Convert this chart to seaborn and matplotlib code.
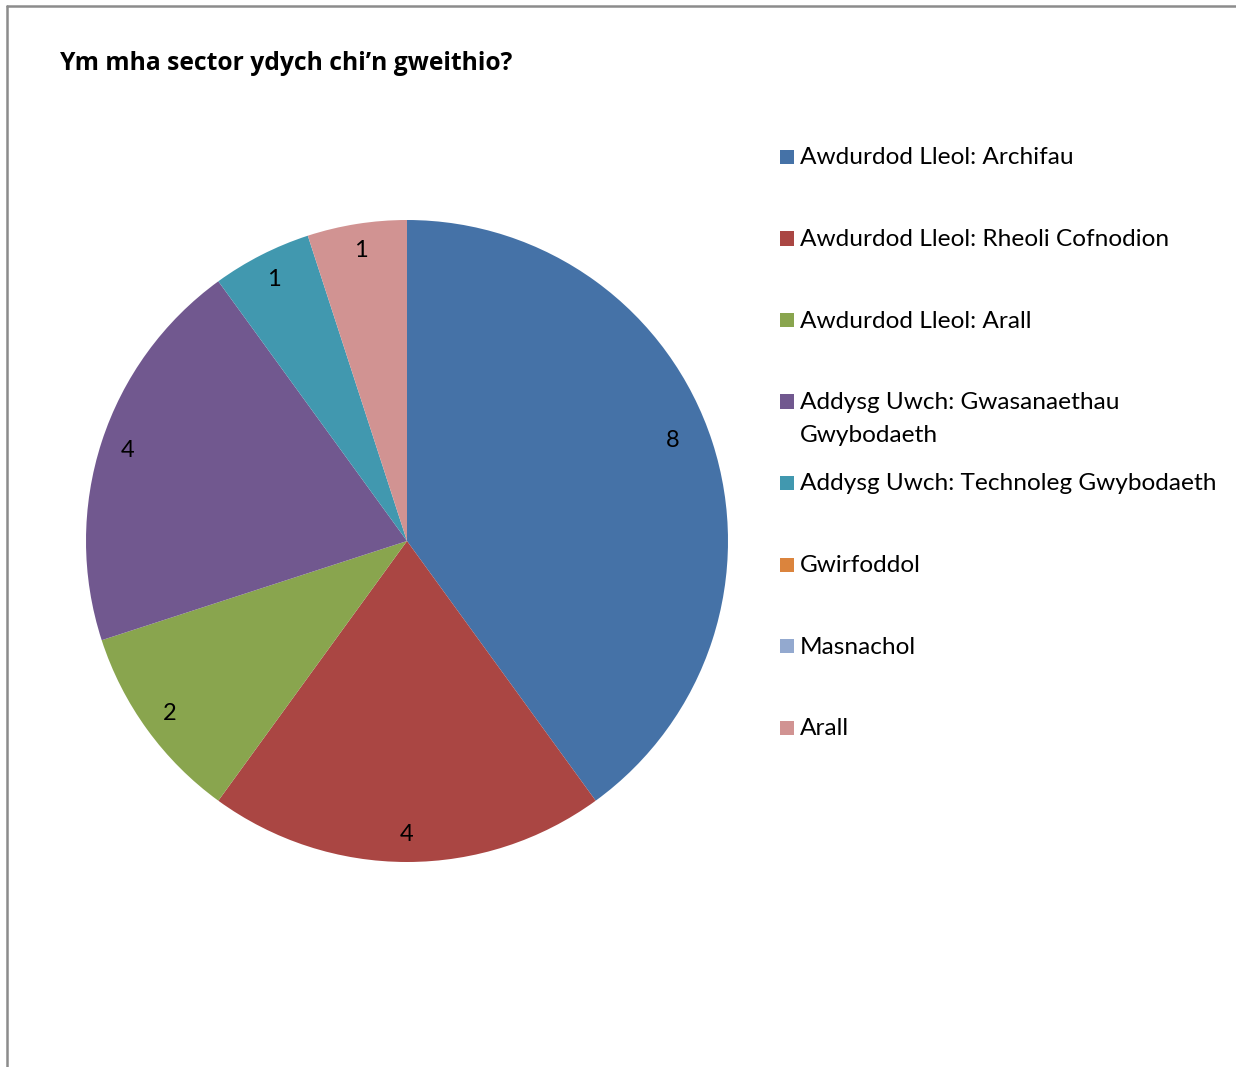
import matplotlib
matplotlib.use("Agg")
import numpy as np
import matplotlib.pyplot as plt
from matplotlib.patches import Rectangle
import seaborn as sns

title = "Ym mha sector ydych chi\u2019n gweithio?"
categories = [
    "Awdurdod Lleol: Archifau",
    "Awdurdod Lleol: Rheoli Cofnodion",
    "Awdurdod Lleol: Arall",
    "Addysg Uwch: Gwasanaethau\nGwybodaeth",
    "Addysg Uwch: Technoleg Gwybodaeth",
    "Gwirfoddol",
    "Masnachol",
    "Arall",
]
counts = [8, 4, 2, 4, 1, 0, 0, 1]
colors = ["#4572A7", "#AA4643", "#89A54E", "#71588F",
          "#4198AF", "#DB843D", "#93A9CF", "#D19392"]

sns.set_theme(style="white")
plt.rcParams["font.family"] = ["Lato", "DejaVu Sans"]

W, H = 1236, 1067
fig = plt.figure(figsize=(W / 100, H / 100), dpi=100)
fig.patch.set_facecolor("white")

# outer frame (top and left edges visible)
fig.add_artist(plt.Line2D([7 / W, 7 / W], [0, 1 - 6 / H], color="#8c8c8c", lw=1.8,
                          transform=fig.transFigure))
fig.add_artist(plt.Line2D([7 / W, 1], [1 - 6 / H, 1 - 6 / H], color="#8c8c8c", lw=1.8,
                          transform=fig.transFigure))

# pie axes
cx, cy, R = 407, 541, 321
ax = fig.add_axes([(cx - R) / W, (H - cy - R) / H, 2 * R / W, 2 * R / H])
total = sum(counts)


def fmt(p):
    v = round(p * total / 100)
    return f"{v}" if v > 0 else ""


wedges, texts, autotexts = ax.pie(
    counts, colors=colors, startangle=90, counterclock=False,
    wedgeprops=dict(linewidth=0), autopct=fmt, pctdistance=0.915,
    textprops=dict(fontsize=17, color="black"))
# Excel's best-fit label of the largest slice sits slightly further in
x, y = autotexts[0].get_position()
ang = np.arctan2(y, x) + np.deg2rad(2.8)
autotexts[0].set_position((0.886 * np.cos(ang), 0.886 * np.sin(ang)))

ax.set_xlim(-1, 1)
ax.set_ylim(-1, 1)
ax.set_aspect("equal")
ax.axis("off")

fig.text(60 / W, 1 - 63 / H, title, fontsize=17.7, fontweight="bold",
         family=["Open Sans", "DejaVu Sans"],
         ha="left", va="center", color="black")

# legend
y0 = 158
step = 81.5
for i, (cat, col) in enumerate(zip(categories, colors)):
    y = y0 + i * step
    fig.add_artist(Rectangle((780 / W, 1 - (y + 6) / H), 14 / W, 14 / H,
                             facecolor=col, edgecolor="none", transform=fig.transFigure))
    for k, line in enumerate(cat.split("\n")):
        fig.text(800 / W, 1 - (y + k * 33) / H, line, fontsize=17.6,
                 ha="left", va="center", color="black")

fig.savefig("out.png", dpi=100, facecolor="white")
